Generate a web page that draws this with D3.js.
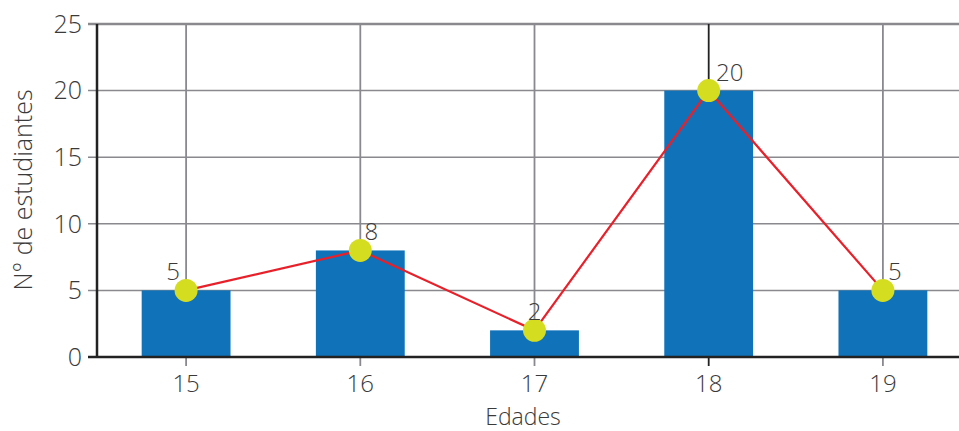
<!DOCTYPE html>
<html>
<head>
<meta charset="utf-8">
<script src="https://cdn.jsdelivr.net/npm/d3@7"></script>
<style>
  body { margin: 0; background: #fff; }
  text { font-family: "Open Sans", "Noto Sans", sans-serif; font-weight: 300; fill: #3a3a3a; }
</style>
</head>
<body>
<svg id="chart"></svg>
<script>
var edades = ["15", "16", "17", "18", "19"]
var estudiantes = [5, 8, 2, 20, 5]
var yTicks = [0, 5, 10, 15, 20, 25]
// small nudges for the value labels (dx)
var labelDx = [-13, 11, 0, 21, 12]

var dimensions = {
    width: 959,
    height: 431,
    margin: { top: 24, bottom: 74, left: 97, right: -9 }
}

var svg = d3.select("#chart")
    .attr("width", dimensions.width)
    .attr("height", dimensions.height)

var xScale = d3.scaleBand()
    .domain(edades)
    .range([dimensions.margin.left + 2, dimensions.width - dimensions.margin.right + 2])
    .paddingInner(0.49)
    .paddingOuter(0.245)

var yScale = d3.scaleLinear()
    .domain([0, 25])
    .range([dimensions.height - dimensions.margin.bottom, dimensions.margin.top])

var y0 = yScale(0)

// horizontal grid
svg.append("g")
    .selectAll("line")
    .data(yTicks)
    .enter()
    .append("line")
    .attr("x1", dimensions.margin.left - 9)
    .attr("x2", dimensions.width)
    .attr("y1", d => yScale(d))
    .attr("y2", d => yScale(d))
    .attr("stroke", "#8a8a8e")
    .attr("stroke-width", d => d == 25 ? 2.5 : 1.5)

// vertical grid
svg.append("g")
    .selectAll("line")
    .data(edades)
    .enter()
    .append("line")
    .attr("x1", d => xScale(d) + xScale.bandwidth() / 2)
    .attr("x2", d => xScale(d) + xScale.bandwidth() / 2)
    .attr("y1", yScale(25))
    .attr("y2", y0 + 9)
    .attr("stroke", d => d == "18" ? "#222" : "#8a8a8e")
    .attr("stroke-width", 1.8)

// bars
svg.append("g")
    .selectAll("rect")
    .data(edades)
    .enter()
    .append("rect")
    .attr("x", d => xScale(d))
    .attr("y", (d, i) => yScale(estudiantes[i]))
    .attr("width", xScale.bandwidth())
    .attr("height", (d, i) => y0 - yScale(estudiantes[i]))
    .attr("fill", "#1072b9")

// axes lines
svg.append("line")
    .attr("x1", dimensions.margin.left).attr("x2", dimensions.margin.left)
    .attr("y1", yScale(25)).attr("y2", y0)
    .attr("stroke", "#222").attr("stroke-width", 2.5)
svg.append("line")
    .attr("x1", dimensions.margin.left - 9).attr("x2", dimensions.width)
    .attr("y1", y0).attr("y2", y0)
    .attr("stroke", "#222").attr("stroke-width", 2.5)

// y tick labels
var yAxis = d3.axisLeft(yScale).tickValues(yTicks).tickSize(0).tickPadding(15)
svg.append("g")
    .attr("class", "y-axis")
    .attr("transform", "translate(" + dimensions.margin.left + ",0)")
    .call(yAxis)
    .call(g => g.select(".domain").remove())
    .selectAll("text")
    .style("font-size", "25px")
    .style("fill", "#3a3a3a")
    .attr("dy", "0.33em")

// x tick labels
var xAxis = d3.axisBottom(xScale).tickSize(0).tickPadding(18)
svg.append("g")
    .attr("class", "x-axis")
    .attr("transform", "translate(0," + y0 + ")")
    .call(xAxis)
    .call(g => g.select(".domain").remove())
    .selectAll("text")
    .style("font-size", "24px")
    .style("fill", "#3a3a3a")

// line
var line = d3.line()
    .x((d, i) => xScale(edades[i]) + xScale.bandwidth() / 2)
    .y(d => yScale(d))

svg.append("path")
    .datum(estudiantes)
    .attr("d", line)
    .attr("fill", "none")
    .attr("stroke", "#e8202a")
    .attr("stroke-width", 2.2)

// points
svg.append("g")
    .selectAll("circle")
    .data(estudiantes)
    .enter()
    .append("circle")
    .attr("cx", (d, i) => xScale(edades[i]) + xScale.bandwidth() / 2)
    .attr("cy", d => yScale(d))
    .attr("r", 11.5)
    .attr("fill", "#d5dd20")

// value labels
svg.append("g")
    .selectAll("text")
    .data(estudiantes)
    .enter()
    .append("text")
    .attr("x", (d, i) => xScale(edades[i]) + xScale.bandwidth() / 2 + labelDx[i])
    .attr("y", d => yScale(d) - 10)
    .attr("text-anchor", "middle")
    .style("font-size", "24px")
    .text(d => d)

// axis titles
svg.append("text")
    .attr("x", 523)
    .attr("y", 425)
    .attr("text-anchor", "middle")
    .style("font-size", "23px")
    .text("Edades")

svg.append("text")
    .attr("transform", "translate(32,190) rotate(-90)")
    .attr("text-anchor", "middle")
    .style("font-size", "25px")
    .text("N° de estudiantes")
</script>
</body>
</html>
